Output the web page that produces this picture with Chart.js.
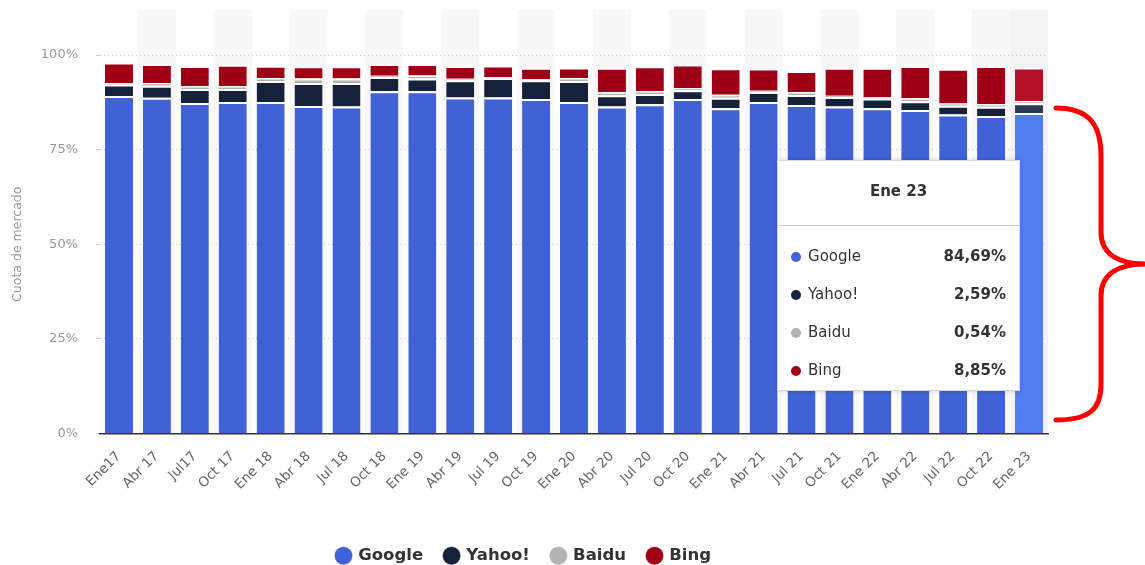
<!DOCTYPE html>
<html>
<head>
<meta charset="utf-8">
<script src="https://cdn.jsdelivr.net/npm/chart.js@4"></script>
<style>
  html, body { margin: 0; background: #fff; }
  #wrap { width: 1145px; height: 565px; position: relative; }
</style>
</head>
<body>
<div id="wrap"><canvas id="myChart1"></canvas></div>
<script>
const labels = ['Ene17', 'Abr 17', 'Jul17', 'Oct 17', 'Ene 18', 'Abr 18', 'Jul 18', 'Oct 18',
  'Ene 19', 'Abr 19', 'Jul 19', 'Oct 19', 'Ene 20', 'Abr 20', 'Jul 20', 'Oct 20',
  'Ene 21', 'Abr 21', 'Jul 21', 'Oct 21', 'Ene 22', 'Abr 22', 'Jul 22', 'Oct 22', 'Ene 23'];

const google = [89.2, 88.7, 87.3, 87.6, 87.6, 86.5, 86.4, 90.4, 90.4, 88.8, 88.8, 88.4, 87.6,
  86.4, 87.0, 88.4, 85.9, 87.6, 86.8, 86.4, 85.9, 85.5, 84.3, 83.9, 84.69];
const yahoo = [3.0, 3.2, 3.7, 3.4, 5.5, 6.1, 6.2, 3.8, 3.4, 4.55, 5.1, 4.9, 5.5,
  2.96, 2.7, 2.3, 2.8, 2.6, 2.6, 2.5, 2.6, 2.3, 2.3, 2.4, 2.59];
const baidu = [0.4, 0.7, 0.8, 0.8, 0.8, 1.2, 1.2, 0.35, 0.8, 0.35, 0.2, 0.35, 0.8,
  0.8, 0.8, 0.5, 0.8, 0.35, 0.8, 0.35, 0.35, 0.8, 0.6, 0.7, 0.54];
const bing = [5.45, 5.0, 5.3, 5.6, 3.25, 3.25, 3.25, 3.1, 3.0, 3.4, 3.1, 3.0, 2.8,
  6.5, 6.5, 6.3, 7.0, 5.9, 5.6, 7.4, 7.8, 8.5, 9.15, 10.1, 8.85];

const yTicks = [0, 25, 50, 75, 100];
const hoverIndex = 24;

const series = [
  { label: 'Google', data: google, color: '#4062d6', hover: '#507ef0' },
  { label: 'Yahoo!', data: yahoo, color: '#15223a', hover: '#2a3a52' },
  { label: 'Baidu', data: baidu, color: '#b3b3b3', hover: '#c4c4c4' },
  { label: 'Bing', data: bing, color: '#a00016', hover: '#b31226' }
];

const font = "'DejaVu Sans', sans-serif";

function fmt(v) {
  return v.toFixed(2).replace('.', ',') + '%';
}

// light column bands behind every other category
const bands = {
  id: 'bands',
  beforeDraw(chart) {
    const ctx = chart.ctx;
    const x = chart.scales.x;
    const area = chart.chartArea;
    const step = x.getPixelForValue(1) - x.getPixelForValue(0);
    ctx.save();
    for (let i = 0; i < labels.length; i++) {
      if (i % 2 === 1 || i === hoverIndex) {
        const cx = x.getPixelForValue(i);
        ctx.fillStyle = i === hoverIndex ? '#f4f4f4' : '#f8f8f8';
        ctx.fillRect(cx - step / 2, 10, step, area.bottom - 10);
      }
    }
    ctx.restore();
  }
};

// fixed tooltip for the hovered column + red brace
const extras = {
  id: 'extras',
  afterDraw(chart) {
    const ctx = chart.ctx;
    const bar = chart.getDatasetMeta(0).data[hoverIndex];
    const right = bar.x - bar.width / 2 + 5;
    const left = right - 243;
    const top = 160, bottom = 391;

    ctx.save();
    ctx.shadowColor = 'rgba(0,0,0,0.18)';
    ctx.shadowBlur = 5;
    ctx.fillStyle = '#fff';
    ctx.fillRect(left, top, right - left, bottom - top);
    ctx.shadowBlur = 0;
    ctx.strokeStyle = '#d8d8d8';
    ctx.lineWidth = 1;
    ctx.strokeRect(left + 0.5, top + 0.5, right - left - 1, bottom - top - 1);

    ctx.fillStyle = '#333';
    ctx.font = `bold 15px ${font}`;
    ctx.textAlign = 'center';
    ctx.textBaseline = 'middle';
    ctx.fillText(labels[hoverIndex], (left + right) / 2, 192);

    ctx.strokeStyle = '#d0d0d0';
    ctx.beginPath();
    ctx.moveTo(left, 225.5);
    ctx.lineTo(right, 225.5);
    ctx.stroke();

    series.forEach((s, k) => {
      const y = 257 + k * 38;
      ctx.fillStyle = s.color;
      ctx.beginPath();
      ctx.arc(left + 19, y, 5, 0, Math.PI * 2);
      ctx.fill();
      ctx.fillStyle = '#333';
      ctx.font = `15px ${font}`;
      ctx.textAlign = 'left';
      ctx.fillText(s.label, left + 31, y);
      ctx.font = `bold 15px ${font}`;
      ctx.textAlign = 'right';
      ctx.fillText(fmt(s.data[hoverIndex]), right - 14, y);
    });

    // brace
    ctx.strokeStyle = '#ff0000';
    ctx.lineWidth = 5;
    ctx.lineCap = 'round';
    ctx.lineJoin = 'round';
    ctx.beginPath();
    ctx.moveTo(1056, 108);
    ctx.bezierCurveTo(1090, 108, 1101, 126, 1101, 156);
    ctx.lineTo(1101, 232);
    ctx.bezierCurveTo(1101, 254, 1118, 264, 1146, 264);
    ctx.bezierCurveTo(1118, 264, 1101, 274, 1101, 296);
    ctx.lineTo(1101, 385);
    ctx.bezierCurveTo(1101, 410, 1088, 420, 1056, 420);
    ctx.stroke();
    ctx.restore();
  }
};

const datasets = series.map(s => ({
  label: s.label,
  data: s.data,
  backgroundColor: s.data.map((v, i) => i === hoverIndex ? s.hover : s.color),
  borderColor: '#fff',
  borderWidth: { top: 2, left: 0, right: 0, bottom: 0 },
  borderSkipped: false,
  categoryPercentage: 1,
  barPercentage: 0.74
}));

const config = {
  type: 'bar',
  data: { labels: labels, datasets: datasets },
  options: {
    responsive: true,
    maintainAspectRatio: false,
    animation: false,
    events: [],
    layout: { padding: { top: 55, right: 97, left: 0, bottom: -9 } },
    scales: {
      x: {
        stacked: true,
        grid: { display: false },
        border: { color: '#333', width: 1.5 },
        ticks: {
          color: '#666',
          font: { family: font, size: 13.5 },
          minRotation: 45,
          maxRotation: 45,
          autoSkip: false,
          padding: 7
        },
        afterFit(scale) { scale.height = 92; }
      },
      y: {
        stacked: true,
        min: 0,
        max: 100,
        afterBuildTicks(scale) { scale.ticks = yTicks.map(v => ({ value: v })); },
        grid: { color: '#cfcfcf', lineWidth: 1, tickLength: 4 },
        border: { display: false, dash: [1, 3] },
        ticks: {
          color: '#999',
          font: { family: font, size: 13 },
          padding: 18,
          callback: v => v + '%'
        },
        title: {
          display: true,
          text: 'Cuota de mercado',
          color: '#999',
          font: { family: font, size: 12.5 },
          padding: { top: 10, bottom: 0 }
        },
        afterFit(scale) { scale.width = 100; }
      }
    },
    plugins: {
      legend: {
        position: 'bottom',
        labels: {
          usePointStyle: true,
          pointStyle: 'circle',
          boxWidth: 13,
          boxHeight: 13,
          padding: 22,
          color: '#333',
          font: { family: font, size: 16.5, weight: 'bold' }
        }
      },
      tooltip: { enabled: false }
    }
  },
  plugins: [bands, extras]
};

config.options.scales.y.grid.borderDash = [1, 3];

new Chart(document.getElementById('myChart1').getContext('2d'), config);
</script>
</body>
</html>
